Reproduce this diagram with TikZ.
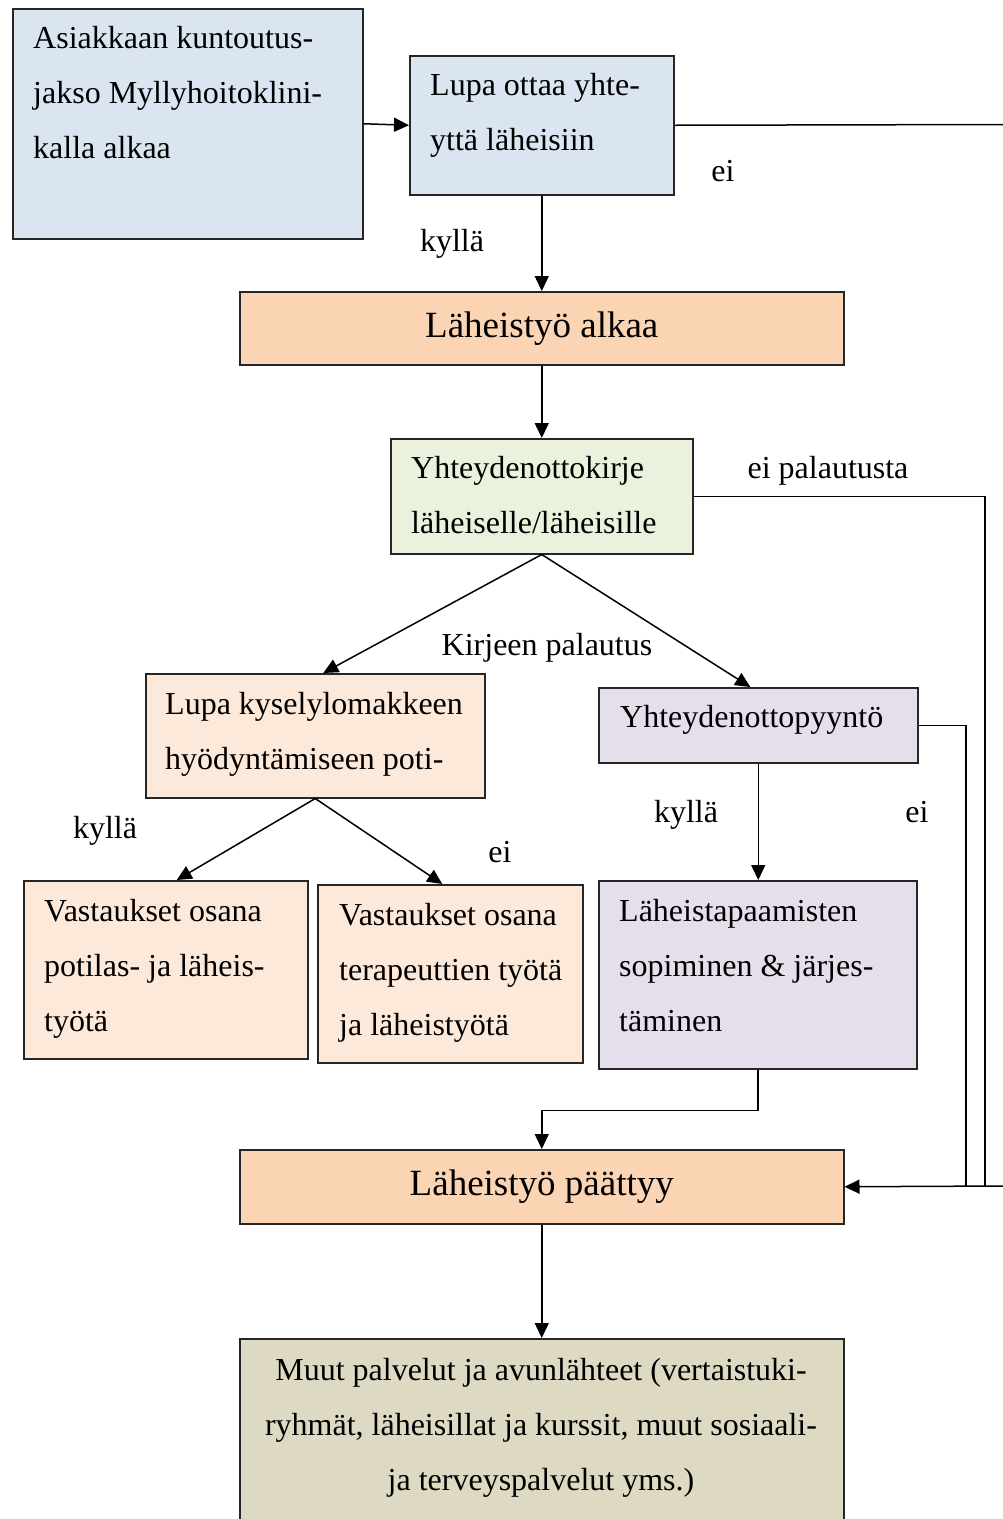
\documentclass[tikz,border=0pt]{standalone}
\usepackage{fontspec}
\setmainfont{Liberation Serif}
\usetikzlibrary{arrows.meta}
\definecolor{cblue}{HTML}{DBE5F1}
\definecolor{corange}{HTML}{FBD4B4}
\definecolor{cgreen}{HTML}{EAF1DD}
\definecolor{cpeach}{HTML}{FDE9D9}
\definecolor{cviolet}{HTML}{E5DFEC}
\definecolor{ctan}{HTML}{DDD9C3}
\begin{document}
\begin{tikzpicture}[x=1pt,y=-1pt,
  box/.style={draw=black!85, line width=1.5pt, rectangle, inner sep=0pt, anchor=north west},
  txt/.style={inner sep=0pt, anchor=base west, font=\fontsize{32}{55}\selectfont},
  ctxt/.style={inner sep=0pt, anchor=base, font=\fontsize{32}{55}\selectfont},
  lbl/.style={inner sep=0pt, anchor=base, font=\fontsize{32}{40}\selectfont},
  big/.style={font=\fontsize{37}{44}\selectfont},
  con/.style={line width=1.5pt, draw=black},
  arr/.style={con, -{Triangle[width=14pt,length=15pt]}}]
\useasboundingbox (0,0) rectangle (1003,1519);
\clip (0,0) rectangle (1003,1519);
\fill[white] (0,0) rectangle (1003,1519);

% boxes
\node[box, fill=cblue, minimum width=350pt, minimum height=230pt] (A) at (12,8) {};
\node[box, fill=cblue, minimum width=264pt, minimum height=139pt] (B) at (409,55) {};
\node[box, fill=corange, minimum width=604pt, minimum height=73pt, big] (C) at (239,291) {Läheistyö alkaa};
\node[box, fill=cgreen, minimum width=302pt, minimum height=115pt] (D) at (390,438) {};
\node[box, fill=cpeach, minimum width=339pt, minimum height=124pt] (E) at (145,673) {};
\node[box, fill=cviolet, minimum width=319pt, minimum height=75pt] (F) at (598,687) {};
\node[box, fill=cviolet, minimum width=318pt, minimum height=188pt] (G) at (598,880) {};
\node[box, fill=cpeach, minimum width=284pt, minimum height=178pt] (H) at (23,880) {};
\node[box, fill=cpeach, minimum width=265pt, minimum height=178pt] (I) at (317,884) {};
\node[box, fill=corange, minimum width=604pt, minimum height=74pt, big] (J) at (239,1149) {Läheistyö päättyy};
\node[box, fill=ctan, minimum width=604pt, minimum height=200pt] (K) at (239,1338) {};

% box texts
\node[txt] (tA) at (33,48) {\parbox[t]{400pt}{Asiakkaan kuntoutus-\\jakso Myllyhoitoklini-\\kalla alkaa}};
\node[txt] (tB) at (430,95) {\parbox[t]{400pt}{Lupa ottaa yhte-\\yttä läheisiin}};
\node[txt] (tD) at (411,478) {\parbox[t]{400pt}{Yhteydenottokirje\\läheiselle/läheisille}};
\node[txt] (tE) at (165,714) {\parbox[t]{400pt}{Lupa kyselylomakkeen\\hyödyntämiseen poti-}};
\node[txt] (tF) at (620,727) {\parbox[t]{400pt}{Yhteydenottopyyntö}};
\node[txt] (tG) at (619,921) {\parbox[t]{400pt}{Läheistapaamisten\\sopiminen \& järjes-\\täminen}};
\node[txt] (tH) at (44,921) {\parbox[t]{400pt}{Vastaukset osana\\potilas- ja läheis-\\työtä}};
\node[txt] (tI) at (339,925) {\parbox[t]{400pt}{Vastaukset osana\\terapeuttien työtä\\ja läheistyötä}};
\node[ctxt] (tK) at (541,1380) {\parbox[t]{620pt}{\centering Muut palvelut ja avunlähteet (vertaistuki-\\ryhmät, läheisillat ja kurssit, muut sosiaali-\\ja terveyspalvelut yms.)}};

% labels
\node[lbl] (l1) at (723,181) {ei};
\node[lbl] (l2) at (452,251) {kyllä};
\node[lbl] (l3) at (828,478) {ei palautusta};
\node[lbl] (l4) at (547,655) {Kirjeen palautus};
\node[lbl] (l5) at (105,838) {kyllä};
\node[lbl] (l6) at (500,862) {ei};
\node[lbl] (l7) at (686,822) {kyllä};
\node[lbl] (l8) at (917,822) {ei};

% connectors
\coordinate (rt) at (1003,124.5);
\coordinate (out1) at (985,1187);
\coordinate (out2) at (966,1187);
\coordinate (rin) at (1003,1186);
\draw[arr] (A.east) -- (B.west);
\draw[con] (B.east) -- (rt);
\draw[arr] (B.south) -- (C.north);
\draw[arr] (C.south) -- (D.north);
\draw[con] (D.east) -| (out1);
\draw[arr] (D.south) -- ([xshift=8pt]E.north);
\draw[arr] (D.south) -- ([xshift=-8pt]F.north);
\draw[con] (F.east) -| (out2);
\draw[arr] (F.south) -- (F.south |- G.north);
\draw[arr] (E.south) -- ([xshift=11pt]H.north);
\draw[arr] (E.south) -- ([xshift=-8pt]I.north);
\draw[arr] (G.south) -- ++(0,41) -| (J.north);
\draw[arr] (rin) -- (J.east);
\draw[arr] (J.south) -- (K.north);
\end{tikzpicture}
\end{document}
